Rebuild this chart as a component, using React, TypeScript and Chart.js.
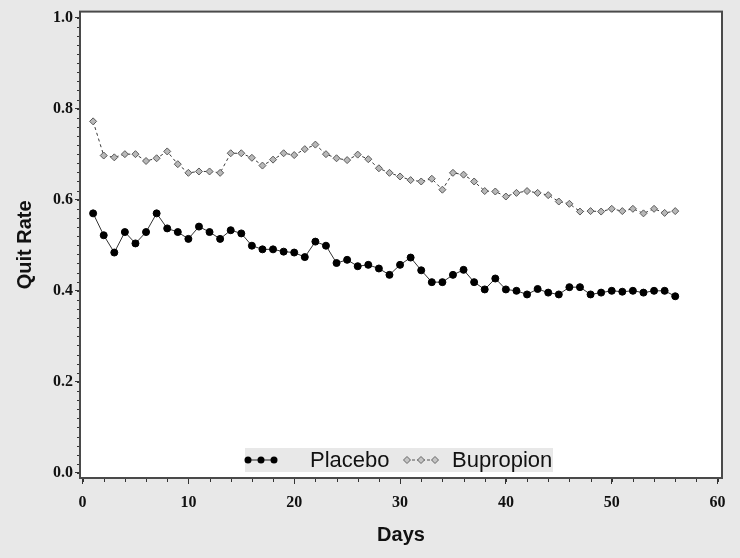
import React, { useEffect, useRef } from "react";
import { Chart, registerables } from "chart.js";

Chart.register(...registerables);

const days: number[] = Array.from({ length: 56 }, (_, i) => i + 1);

const placebo: number[] = [
  0.570, 0.522, 0.484, 0.529, 0.504, 0.529, 0.570, 0.537, 0.529, 0.514,
  0.541, 0.529, 0.514, 0.533, 0.526, 0.499, 0.491, 0.491, 0.486, 0.484,
  0.474, 0.508, 0.499, 0.461, 0.468, 0.454, 0.457, 0.449, 0.435, 0.457,
  0.473, 0.445, 0.419, 0.419, 0.435, 0.446, 0.419, 0.403, 0.427, 0.403,
  0.400, 0.392, 0.404, 0.396, 0.392, 0.408, 0.408, 0.392, 0.396, 0.400,
  0.398, 0.400, 0.396, 0.400, 0.400, 0.388,
];

const bupropion: number[] = [
  0.772, 0.697, 0.693, 0.700, 0.700, 0.685, 0.691, 0.706, 0.678, 0.659,
  0.662, 0.662, 0.659, 0.702, 0.702, 0.692, 0.675, 0.688, 0.702, 0.698,
  0.711, 0.721, 0.700, 0.691, 0.687, 0.699, 0.689, 0.669, 0.659, 0.651,
  0.643, 0.640, 0.646, 0.622, 0.659, 0.655, 0.640, 0.619, 0.618, 0.607,
  0.615, 0.619, 0.615, 0.610, 0.596, 0.591, 0.574, 0.575, 0.574, 0.580,
  0.575, 0.580, 0.570, 0.580, 0.571, 0.575,
];

const xTicks: number[] = [0, 10, 20, 30, 40, 50, 60];
const yTicks: number[] = [0, 0.2, 0.4, 0.6, 0.8, 1.0];
const xMinorStep = 2;
const yMinorStep = 0.02;
const seriesNames: string[] = ["Placebo", "Bupropion"];

const BG = "#e8e8e8";
const FRAME = "#4a4a4a";

const framePlugin = {
  id: "frameAndLegend",
  beforeDraw(chart: any) {
    const { ctx, width, height, chartArea: a } = chart;
    ctx.save();
    ctx.fillStyle = BG;
    ctx.fillRect(0, 0, width, height);
    ctx.fillStyle = "#ffffff";
    ctx.fillRect(a.left, a.top, a.right - a.left, a.bottom - a.top);
    ctx.restore();
  },
  afterDraw(chart: any) {
    const { ctx, chartArea: a, scales } = chart;
    const xs = scales.x;
    const ys = scales.y;
    ctx.save();
    // minor ticks
    ctx.strokeStyle = "#333";
    ctx.lineWidth = 1;
    ctx.beginPath();
    for (let v = 0; v <= 60.001; v += xMinorStep) {
      const px = Math.round(xs.getPixelForValue(v)) + 0.5;
      ctx.moveTo(px, a.bottom);
      ctx.lineTo(px, a.bottom + 4);
    }
    for (let v = 0; v <= 1.0001; v += yMinorStep) {
      const py = Math.round(ys.getPixelForValue(v)) + 0.5;
      ctx.moveTo(a.left - 3, py);
      ctx.lineTo(a.left, py);
    }
    ctx.stroke();

    // frame
    ctx.strokeStyle = FRAME;
    ctx.lineWidth = 2;
    ctx.strokeRect(a.left, a.top, a.right - a.left, a.bottom - a.top);

    // legend
    const cx = (a.left + a.right) / 2;
    const boxW = 308;
    const boxH = 24;
    const bx = cx - boxW / 2 - 2;
    const by = a.bottom - 6 - boxH;
    ctx.fillStyle = BG;
    ctx.fillRect(bx, by, boxW, boxH);
    const cy = by + boxH / 2;

    // placebo sample
    const p0 = bx + 2;
    ctx.strokeStyle = "#222";
    ctx.lineWidth = 1;
    ctx.setLineDash([]);
    ctx.beginPath();
    ctx.moveTo(p0, cy);
    ctx.lineTo(p0 + 27, cy);
    ctx.stroke();
    ctx.fillStyle = "#000";
    [p0 + 1, p0 + 14, p0 + 27].forEach((x) => {
      ctx.beginPath();
      ctx.arc(x, cy, 3.5, 0, Math.PI * 2);
      ctx.fill();
    });
    ctx.font = "22px 'Liberation Sans', Arial, sans-serif";
    ctx.textBaseline = "middle";
    ctx.textAlign = "left";
    ctx.fillStyle = "#111";
    ctx.fillText(seriesNames[0], bx + 65, cy + 1);

    // bupropion sample
    const b0 = bx + 162;
    ctx.strokeStyle = "#555";
    ctx.setLineDash([3, 2]);
    ctx.beginPath();
    ctx.moveTo(b0, cy);
    ctx.lineTo(b0 + 28, cy);
    ctx.stroke();
    ctx.setLineDash([]);
    [b0, b0 + 14, b0 + 28].forEach((x) => {
      ctx.beginPath();
      ctx.moveTo(x, cy - 3.5);
      ctx.lineTo(x + 3.5, cy);
      ctx.lineTo(x, cy + 3.5);
      ctx.lineTo(x - 3.5, cy);
      ctx.closePath();
      ctx.fillStyle = "#c4c4c4";
      ctx.fill();
      ctx.strokeStyle = "#666";
      ctx.stroke();
    });
    ctx.fillStyle = "#111";
    ctx.fillText(seriesNames[1], bx + 207, cy + 1);
    ctx.restore();
  },
};

export default function App() {
  const ref = useRef<HTMLCanvasElement | null>(null);

  useEffect(() => {
    if (!ref.current) return;
    const tickFont = { family: "'Liberation Serif', 'Times New Roman', serif", size: 16, weight: "bold" as const };
    const titleFont = { family: "'Liberation Sans', Arial, sans-serif", size: 20, weight: "bold" as const };
    const chart = new Chart(ref.current, {
      type: "line",
      data: {
        labels: days,
        datasets: [
          {
            label: seriesNames[0],
            data: days.map((d, i) => ({ x: d, y: placebo[i] })),
            borderColor: "#333333",
            borderWidth: 1,
            pointStyle: "circle",
            pointRadius: 3.5,
            pointBackgroundColor: "#000000",
            pointBorderColor: "#000000",
            pointBorderWidth: 1,
            tension: 0,
            fill: false,
          },
          {
            label: seriesNames[1],
            data: days.map((d, i) => ({ x: d, y: bupropion[i] })),
            borderColor: "#3a3a3a",
            borderWidth: 1,
            borderDash: [3, 3],
            pointStyle: "rectRot",
            pointRadius: 3.5,
            pointBackgroundColor: "#b8b8b8",
            pointBorderColor: "#5a5a5a",
            pointBorderWidth: 1,
            tension: 0,
            fill: false,
          },
        ],
      },
      options: {
        animation: false,
        responsive: false,
        devicePixelRatio: 1,
        layout: { padding: { left: 0, top: 10, right: 18, bottom: 0 } },
        plugins: {
          legend: { display: false },
          tooltip: { enabled: false },
        },
        scales: {
          x: {
            type: "linear",
            min: -0.24,
            max: 60.42,
            afterBuildTicks: (s: any) => {
              s.ticks = xTicks.map((v) => ({ value: v }));
            },
            afterFit: (s: any) => {
              s.height = 80;
            },
            ticks: {
              autoSkip: false,
              maxRotation: 0,
              color: "#111",
              font: tickFont,
              padding: 9,
              callback: (v: any) => String(v),
            },
            grid: {
              drawOnChartArea: false,
              drawTicks: true,
              tickLength: 6,
              tickColor: "#333",
            },
            border: { display: true, color: FRAME, width: 1 },
            title: {
              display: true,
              text: "Days",
              color: "#111",
              font: titleFont,
              padding: { top: 0, bottom: 11 },
            },
          },
          y: {
            type: "linear",
            min: -0.011,
            max: 1.013,
            afterBuildTicks: (s: any) => {
              s.ticks = yTicks.map((v) => ({ value: v }));
            },
            afterFit: (s: any) => {
              s.width = 80;
            },
            ticks: {
              autoSkip: false,
              color: "#111",
              font: tickFont,
              padding: 2,
              callback: (v: any) => Number(v).toFixed(1),
            },
            grid: {
              drawOnChartArea: false,
              drawTicks: true,
              tickLength: 5,
              tickColor: "#333",
            },
            border: { display: true, color: FRAME, width: 1 },
            title: {
              display: true,
              text: "Quit Rate",
              color: "#111",
              font: titleFont,
              padding: { top: 13, bottom: 0 },
            },
          },
        },
      },
      plugins: [framePlugin],
    });
    return () => chart.destroy();
  }, []);

  return (
    <div style={{ position: "fixed", left: 0, top: 0, width: 740, height: 558, background: BG }}>
      <canvas ref={ref} width={740} height={558} style={{ display: "block", width: 740, height: 558 }} />
    </div>
  );
}
